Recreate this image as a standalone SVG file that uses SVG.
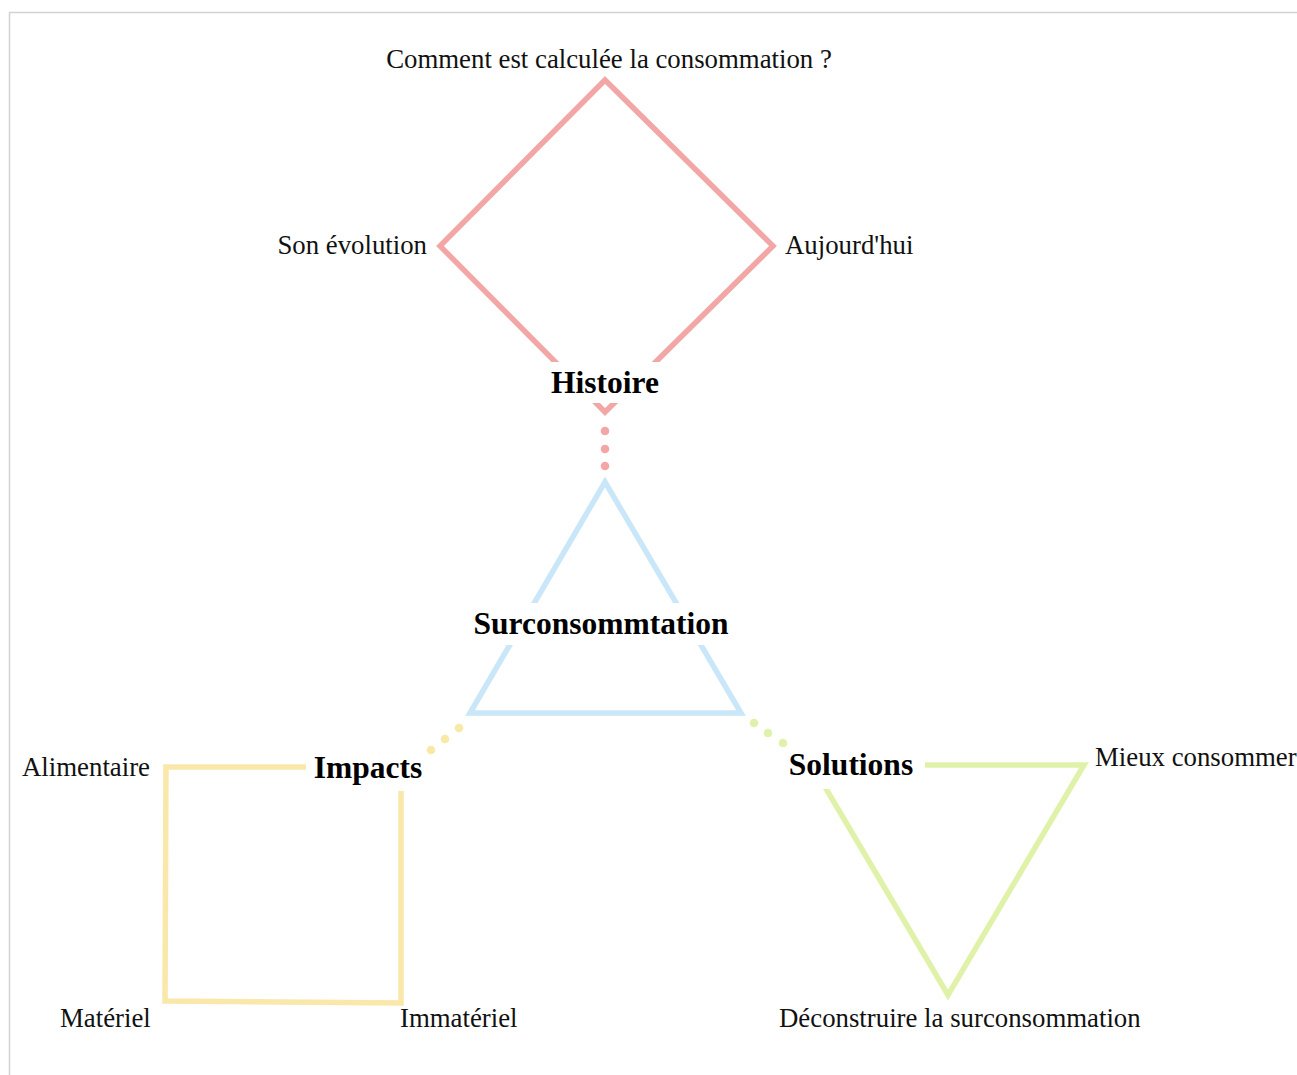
<svg xmlns="http://www.w3.org/2000/svg" width="1297" height="1075" viewBox="0 0 1297 1075">
<style>
.t{font-family:"Liberation Serif","Times New Roman",serif;font-size:26.8px;fill:#111}
.b{font-family:"Liberation Serif","Times New Roman",serif;font-size:31.5px;font-weight:bold;fill:#000}
.shape{fill:none;stroke-width:5.5;stroke-linejoin:miter}
.bg{fill:#fff}
.pk{fill:#f2a7a6}
.yl{fill:#f8e9a6}
.gr{fill:#e0f1ab}
</style>
<rect x="0" y="0" width="1297" height="1075" fill="#fff"/>
<path d="M9.5 1075 V12.5 H1297" fill="none" stroke="#d2d2d2" stroke-width="1.5"/>
<g id="histoire">
<polygon class="shape" points="605,80 773,246 605,412 440,246" stroke="#f2a7a6"/>
<rect class="bg" x="545" y="362" width="120" height="41"/>
<text class="b" x="605" y="393" text-anchor="middle">Histoire</text>
</g>
<g id="surconsommation">
<polygon class="shape" points="605,482 741,713 470,713" stroke="#c9e7f8"/>
<rect class="bg" x="468" y="603" width="268" height="42"/>
<text class="b" x="601" y="634" text-anchor="middle">Surconsommtation</text>
</g>
<g id="impacts">
<polygon class="shape" points="166,767 401,767 401,1003 165,1001" stroke="#f9e8a9"/>
<rect class="bg" x="306" y="754" width="118" height="37"/>
<text class="b" x="368" y="778" text-anchor="middle">Impacts</text>
</g>
<g id="solutions">
<polygon class="shape" points="812,765 1084,765 948,995" stroke="#e0f2a9"/>
<rect class="bg" x="782" y="750" width="143" height="39"/>
<text class="b" x="851" y="775" text-anchor="middle">Solutions</text>
</g>
<g id="connectors">
<g id="c-histoire">
<circle class="pk" cx="605" cy="431" r="4.3"/>
<circle class="pk" cx="605" cy="449" r="4.3"/>
<circle class="pk" cx="605" cy="466" r="4.3"/>
</g>
<g id="c-impacts">
<circle class="yl" cx="459" cy="728" r="4.3"/>
<circle class="yl" cx="445" cy="739" r="4.3"/>
<circle class="yl" cx="431" cy="750" r="4.3"/>
</g>
<g id="c-solutions">
<circle class="gr" cx="754" cy="723" r="4.3"/>
<circle class="gr" cx="768" cy="733" r="4.3"/>
<circle class="gr" cx="783" cy="743" r="4.3"/>
</g>
</g>
<g id="labels">
<text class="t" x="609" y="68" text-anchor="middle">Comment est calculée la consommation ?</text>
<text class="t" x="427" y="254" text-anchor="end">Son évolution</text>
<text class="t" x="785" y="254">Aujourd'hui</text>
<text class="t" x="22" y="776">Alimentaire</text>
<text class="t" x="1095" y="766">Mieux consommer</text>
<text class="t" x="60" y="1027">Matériel</text>
<text class="t" x="400" y="1027">Immatériel</text>
<text class="t" x="779" y="1027">Déconstruire la surconsommation</text>
</g>
</svg>
